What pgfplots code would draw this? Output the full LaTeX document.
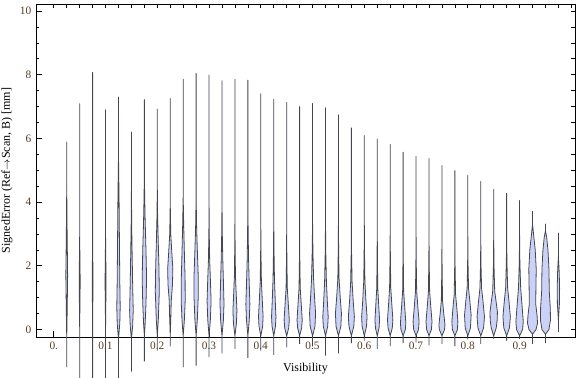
\documentclass[border=0pt]{standalone}
\usepackage{pgfplots}
\pgfplotsset{compat=1.18}
\usepackage{fontspec}
\setmainfont{Liberation Serif}
\definecolor{vfill}{rgb}{0.798,0.825,0.968}
\definecolor{vedge}{RGB}{70,70,80}
\definecolor{ticklab}{RGB}{85,60,35}
% one violin: #1 position, #2 min, #3 max, #4 profile y/half-width(px) bottom->top
\newcommand{\violin}[4]{%
  \gdef\vR{}\gdef\vL{}%
  \foreach \yy/\ww in {#4} {%
    \pgfmathsetmacro\xr{#1+\ww*0.001932}%
    \pgfmathsetmacro\xl{#1-\ww*0.001932}%
    \xdef\vR{\vR (\xr,\yy)}%
    \xdef\vL{(\xl,\yy) \vL}%
  }%
  \edef\temp{\noexpand\addplot[violin] coordinates {(#1,#2) \vR\space (#1,#3) \vL\space (#1,#2)};}%
  \temp
}
\begin{document}
\begin{tikzpicture}
\begin{axis}[
  scale only axis, width=404.25pt, height=249.75pt,
  xmin=-0.0344, xmax=1.0071, ymin=-0.235, ymax=10.22,
  clip=false,
  axis line style={line width=0.6pt},
  tick pos=left, tick align=inside,
  xtick={0,0.1,0.2,0.3,0.4,0.5,0.6,0.7,0.8,0.9},
  xticklabels={0.,0.1,0.2,0.3,0.4,0.5,0.6,0.7,0.8,0.9},
  ytick={0,2,4,6,8,10},
  minor y tick num=3,
  major tick length=4.5pt, minor tick length=2.25pt,
  tick style={line width=0.5pt, black},
  /pgf/number format/assume math mode=true,
  tick label style={font=\fontsize{8.5}{10}\selectfont, text=ticklab},
  label style={font=\fontsize{9}{11}\selectfont},
  xlabel={Visibility},
  ylabel={SignedError (Ref{\footnotesize$\rightarrow$}Scan, B) [mm]},
  xlabel style={at={(axis description cs:0.5,-0.096)}, anchor=center},
  ylabel style={at={(axis description cs:-0.054,0.5)}, anchor=center},
  violin/.style={fill=vfill, draw=vedge, line width=0.6pt, line join=round},
]
\violin{0.025}{-1.18}{5.89}{-0.3/0, 0.5/0.4, 1.7/0.9, 3/0.4, 4.5/0}
\violin{0.05}{-1.6}{7.09}{0/0, 1.5/0.5, 3/0}
\violin{0.075}{-1.6}{8.07}{0/0, 1.5/0.4, 3/0}
\violin{0.1}{-1.6}{6.90}{0/0, 1.5/0.5, 3/0}
\violin{0.125}{-1.6}{7.30}{-0.3/0, 0.2/1.3, 0.7/1.7, 1.5/1.3, 2.5/1.0, 4/0.6, 5.5/0}
\violin{0.15}{-1.32}{6.20}{-0.3/0, 0.1/1.2, 0.6/1.8, 1.3/1.3, 2.2/0.8, 3.2/0.3, 4.5/0}
\violin{0.175}{-1.00}{7.22}{-0.2/0, 0.2/0.8, 0.8/1.6, 1.6/2.2, 2.5/1.6, 3.4/0.8, 4.2/0.3, 5/0}
\violin{0.2}{-0.66}{6.92}{-0.2/0, 0.3/1.0, 1.2/2.0, 2/1.6, 2.8/0.9, 3.6/0.3, 4.5/0}
\violin{0.225}{-0.53}{7.25}{-0.2/0, 0.4/0.6, 0.9/1.0, 1.4/2.2, 1.9/2.6, 2.4/1.6, 3/0.5, 4/0}
\violin{0.25}{-1.18}{7.86}{-0.2/0, 0.3/1.2, 0.9/2.0, 1.6/1.9, 2.4/1.2, 3.3/0.5, 4.2/0}
\violin{0.275}{-1.13}{8.04}{-0.2/0, 0.3/1.2, 1.0/2.1, 1.6/2.2, 2.4/1.3, 3.2/0.5, 4.2/0}
\violin{0.3}{-0.87}{7.99}{-0.2/0, 0.3/1.3, 0.9/2.0, 1.5/1.4, 2.2/0.6, 3/0.2, 4/0}
\violin{0.325}{-0.75}{7.81}{-0.2/0, 0.3/1.4, 0.8/2.0, 1.4/1.5, 2.2/0.8, 3/0.3, 4/0}
\violin{0.35}{-0.61}{7.86}{-0.2/0, 0.2/1.5, 0.6/2.0, 1.1/1.3, 1.7/0.5, 2.6/0.2, 3.5/0}
\violin{0.375}{-0.89}{7.83}{-0.2/0, 0.3/1.4, 0.8/2.0, 1.4/1.4, 2.2/0.7, 3/0.3, 4/0}
\violin{0.4}{-0.66}{7.40}{-0.2/0, 0.1/1.8, 0.4/2.3, 0.9/1.5, 1.5/0.6, 2.3/0.2, 3.3/0}
\violin{0.425}{-0.80}{7.23}{-0.2/0, 0.1/1.7, 0.4/2.2, 0.9/1.5, 1.6/0.7, 2.4/0.3, 3.4/0}
\violin{0.45}{-0.56}{7.13}{-0.2/0, 0.05/2.0, 0.3/2.6, 0.8/1.6, 1.3/0.6, 2.2/0.2, 3.2/0}
\violin{0.475}{-0.45}{7.00}{-0.2/0, 0.05/2.0, 0.3/2.6, 0.8/1.6, 1.3/0.6, 2.2/0.2, 3.2/0}
\violin{0.5}{-0.53}{7.10}{-0.2/0, 0.1/2.4, 0.5/3.0, 1.0/2.0, 1.6/1.0, 2.4/0.4, 3.4/0}
\violin{0.525}{-0.82}{6.96}{-0.2/0, 0.1/2.2, 0.4/2.7, 0.9/1.8, 1.5/0.9, 2.4/0.3, 3.4/0}
\violin{0.55}{-0.75}{6.74}{-0.2/0, 0.1/2.4, 0.5/3.0, 1.0/1.8, 1.6/0.6, 2.5/0.2, 3.5/0}
\violin{0.575}{-0.43}{6.33}{-0.2/0, 0.1/2.4, 0.4/3.0, 0.9/1.8, 1.5/0.7, 2.4/0.2, 3.4/0}
\violin{0.6}{-0.35}{6.09}{-0.2/0, 0.1/2.2, 0.4/2.7, 0.9/1.6, 1.5/0.6, 2.4/0.2, 3.4/0}
\violin{0.625}{-0.61}{5.98}{-0.2/0, 0.05/1.8, 0.3/2.3, 0.8/1.4, 1.3/0.5, 2.2/0.2, 3.2/0}
\violin{0.65}{-0.52}{5.81}{-0.2/0, 0.05/2.1, 0.3/2.7, 0.8/1.6, 1.3/0.6, 2.2/0.2, 3.2/0}
\violin{0.675}{-0.42}{5.57}{-0.2/0, 0.0/2.2, 0.2/2.7, 0.7/1.6, 1.2/0.5, 2.1/0.2, 3/0}
\violin{0.7}{-0.40}{5.44}{-0.2/0, 0.0/2.4, 0.25/3.0, 0.7/1.8, 1.2/0.6, 2.1/0.2, 3/0}
\violin{0.725}{-0.50}{5.37}{-0.2/0, 0.0/2.4, 0.25/3.0, 0.7/1.8, 1.2/0.6, 2.1/0.2, 3/0}
\violin{0.75}{-0.45}{5.15}{-0.2/0, 0.0/2.6, 0.15/3.0, 0.5/1.8, 0.9/0.6, 1.8/0.2, 2.8/0}
\violin{0.775}{-0.52}{4.99}{-0.2/0, 0.0/2.5, 0.25/3.0, 0.65/2.0, 1.1/0.7, 2/0.2, 3/0}
\violin{0.8}{-0.31}{4.84}{-0.2/0, 0.05/2.6, 0.45/3.3, 0.9/2.0, 1.3/0.7, 2.1/0.2, 3/0}
\violin{0.825}{-0.45}{4.65}{-0.2/0, 0.05/2.8, 0.4/3.7, 0.9/2.2, 1.3/0.8, 2.1/0.2, 3/0}
\violin{0.85}{-0.29}{4.40}{-0.2/0, 0.05/2.5, 0.3/3.5, 0.55/3.7, 0.85/2.5, 1.2/1.0, 2/0.3, 3/0}
\violin{0.875}{-0.35}{4.28}{-0.2/0, 0.05/2.8, 0.4/3.7, 0.9/2.3, 1.3/1.0, 2.1/0.3, 3/0}
\violin{0.9}{-0.29}{4.05}{-0.2/0, 0.0/3.0, 0.25/3.7, 0.7/2.6, 1.3/1.1, 2.1/0.3, 3/0}
\violin{0.925}{-0.45}{3.71}{-0.15/0, 0/3.5, 0.2/5.0, 0.45/4.5, 0.8/3.2, 1.3/3.4, 1.9/3.7, 2.5/2.7, 3.0/1.0, 3.3/0}
\violin{0.95}{-0.43}{3.31}{-0.15/0, 0/3.5, 0.3/5.0, 0.7/4.8, 1.2/3.8, 1.9/3.5, 2.5/2.5, 2.9/1.2, 3.1/0}
\violin{0.975}{-0.08}{3.03}{0.3/0, 0.8/1.0, 1.3/1.2, 1.8/0.8, 2.3/0}
\end{axis}
\begin{axis}[
  scale only axis, width=404.25pt, height=249.75pt,
  xmin=-0.0344, xmax=1.0071, ymin=-0.235, ymax=10.22,
  axis x line*=top, axis y line*=right,
  axis line style={line width=0.6pt},
  tick align=inside,
  xtick={0,0.025,...,1.0}, xticklabels={},
  ytick={0,0.5,...,10}, yticklabels={},
  major tick length=3pt,
  tick style={line width=0.5pt, black},
]
\end{axis}
\pgfresetboundingbox
\path[use as bounding box] ([xshift=-27pt,yshift=-30pt]current axis.south west) rectangle ([xshift=0.75pt,yshift=3pt]current axis.north east);
\end{tikzpicture}
\end{document}
